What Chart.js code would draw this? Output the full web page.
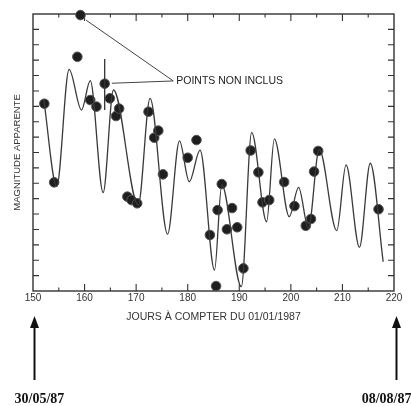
<!DOCTYPE html>
<html>
<head>
<meta charset="utf-8">
<script src="https://cdn.jsdelivr.net/npm/chart.js@4"></script>
<style>
  html, body { margin: 0; padding: 0; background: #fff; }
  #wrap { width: 411px; height: 406px; }
</style>
</head>
<body>
<div id="wrap"><canvas id="lightcurve"></canvas></div>
<script>
// observed magnitudes (arbitrary units, axis has no labels)
var obsDays = [152.2, 154.1, 158.6, 161.1, 162.3, 164.9, 166.1, 166.7, 168.3, 169.1, 170.2,
  172.4, 173.5, 174.3, 175.2, 180.0, 181.7, 184.3, 185.5, 185.8, 186.6, 187.6, 188.6,
  189.6, 190.8, 192.2, 193.7, 194.5, 195.8, 198.7, 200.7, 202.9, 203.9, 204.5, 205.3, 217.0];
var obsMag = [12.17, 7.06, 15.22, 12.41, 11.98, 12.52, 11.37, 11.85, 6.13, 5.91, 5.70,
  11.65, 9.96, 10.42, 7.58, 8.66, 9.81, 3.64, 0.32, 5.26, 6.95, 4.01, 5.39,
  4.14, 1.47, 9.13, 7.71, 5.76, 5.91, 7.08, 5.52, 4.24, 4.68, 7.76, 9.10, 5.31];

// points left out of the fit
var exclDays = [159.2, 163.9];
var exclMag = [17.93, 13.47];
var exclErrLow = [17.93, 11.76];
var exclErrHigh = [17.93, 15.07];

// fitted curve (read at its turning points)
var fitDays = [152.1, 154.6, 157.0, 159.4, 161.1, 163.6, 165.6, 170.4, 172.7, 176.1, 178.4,
  180.3, 182.4, 185.2, 186.6, 190.4, 192.4, 195.3, 196.8, 199.7, 201.5, 203.4, 205.5,
  208.9, 210.7, 213.3, 215.4, 217.9];
var fitMag = [12.4, 6.8, 14.4, 11.76, 13.67, 6.39, 13.06, 5.59, 12.52, 3.70, 9.75,
  7.10, 9.16, 1.36, 6.89, 0.28, 10.31, 4.5, 9.88, 4.83, 6.74, 4.07, 9.2,
  3.92, 8.19, 2.84, 8.30, 1.9];

var dayMin = 150, dayMax = 220;
var magMin = 0, magMax = 18;
var dateLabels = ["30/05/87", "08/08/87"];

function pts(xs, ys) {
  return xs.map(function(x, i) { return { x: x, y: ys[i] }; });
}

var errData = [];
exclDays.forEach(function(d, i) {
  if (exclErrLow[i] !== exclErrHigh[i]) {
    errData.push({ x: d, y: exclErrLow[i] }, { x: d, y: exclErrHigh[i] }, { x: null, y: null });
  }
});

// frame with inward ticks on all four sides
var frame = {
  id: 'frame',
  beforeDatasetsDraw: function(chart) {
    var ctx = chart.ctx, a = chart.chartArea;
    var xs = chart.scales.x, ys = chart.scales.y;
    ctx.save();
    ctx.strokeStyle = '#333';
    ctx.lineWidth = 1.4;
    ctx.strokeRect(a.left, a.top, a.right - a.left, a.bottom - a.top);
    ctx.lineWidth = 1.1;
    ctx.beginPath();
    for (var d = dayMin + 5; d < dayMax; d += 5) {
      var px = xs.getPixelForValue(d);
      var len = d % 10 === 0 ? 7 : 3.5;
      ctx.moveTo(px, a.bottom); ctx.lineTo(px, a.bottom - len);
      ctx.moveTo(px, a.top); ctx.lineTo(px, a.top + len);
    }
    for (var m = magMin + 1; m < magMax; m++) {
      var py = ys.getPixelForValue(m);
      ctx.moveTo(a.left, py); ctx.lineTo(a.left + 6, py);
      ctx.moveTo(a.right, py); ctx.lineTo(a.right - 6, py);
    }
    ctx.stroke();
    ctx.restore();
  },
  afterDraw: function(chart) {
    var ctx = chart.ctx;
    var xs = chart.scales.x, ys = chart.scales.y;
    ctx.save();
    // callout for the excluded points
    var lx = xs.getPixelForValue(177.2), ly = ys.getPixelForValue(13.65);
    ctx.strokeStyle = '#444';
    ctx.lineWidth = 1;
    ctx.beginPath();
    ctx.moveTo(xs.getPixelForValue(160.3), ys.getPixelForValue(17.6));
    ctx.lineTo(lx, ly);
    ctx.lineTo(xs.getPixelForValue(165.3), ys.getPixelForValue(13.5));
    ctx.stroke();
    ctx.fillStyle = '#222';
    ctx.font = '10.5px "Liberation Sans", Arial, sans-serif';
    ctx.textBaseline = 'middle';
    ctx.fillText('POINTS NON INCLUS', lx + 3, ly);

    // date arrows under the axis ends
    ctx.fillStyle = '#111';
    ctx.strokeStyle = '#111';
    ctx.lineWidth = 2;
    [dayMin, dayMax].forEach(function(d, i) {
      var px = Math.round(xs.getPixelForValue(d)) + (i === 0 ? 1.5 : 2.5);
      ctx.beginPath();
      ctx.moveTo(px, 326); ctx.lineTo(px, 380);
      ctx.stroke();
      ctx.beginPath();
      ctx.moveTo(px, 316); ctx.lineTo(px - 4.5, 328); ctx.lineTo(px + 4.5, 328);
      ctx.closePath();
      ctx.fill();
      ctx.font = 'bold 14px "Liberation Serif", "Times New Roman", serif';
      ctx.textBaseline = 'alphabetic';
      ctx.textAlign = i === 0 ? 'left' : 'right';
      ctx.fillText(dateLabels[i], i === 0 ? px - 20 : px + 15, 403);
    });
    ctx.restore();
  }
};

var chart = new Chart(document.getElementById('lightcurve').getContext('2d'), {
  type: 'line',
  data: {
    datasets: [{
      label: 'ajustement',
      data: pts(fitDays, fitMag),
      borderColor: '#3a3a3a',
      borderWidth: 1.3,
      pointRadius: 0,
      cubicInterpolationMode: 'monotone',
      fill: false
    }, {
      label: 'barre',
      data: errData,
      borderColor: '#333',
      borderWidth: 1.3,
      pointRadius: 0,
      spanGaps: false,
      clip: false
    }, {
      label: 'observations',
      data: pts(obsDays, obsMag),
      showLine: false,
      pointRadius: 4.8,
      pointBackgroundColor: '#1e1e1e',
      pointBorderColor: '#555',
      pointBorderWidth: 1,
      clip: false
    }, {
      label: 'non inclus',
      data: pts(exclDays, exclMag),
      showLine: false,
      pointRadius: 4.8,
      pointBackgroundColor: '#1e1e1e',
      pointBorderColor: '#555',
      pointBorderWidth: 1,
      clip: false
    }]
  },
  options: {
    responsive: true,
    maintainAspectRatio: false,
    animation: false,
    layout: { padding: { top: 14, right: 17, left: 0, bottom: 0 } },
    plugins: { legend: { display: false }, tooltip: { enabled: false } },
    scales: {
      x: {
        type: 'linear',
        min: dayMin,
        max: dayMax,
        grid: { display: false, drawTicks: false },
        border: { display: false },
        ticks: {
          stepSize: 5,
          autoSkip: false,
          maxRotation: 0,
          padding: 1,
          color: '#333',
          font: { family: '"Liberation Sans", Arial, sans-serif', size: 10 },
          callback: function(v) { return v % 10 === 0 ? v : ''; }
        },
        title: {
          display: true,
          text: 'JOURS À COMPTER DU 01/01/1987',
          color: '#333',
          font: { family: '"Liberation Sans", Arial, sans-serif', size: 10.5 },
          padding: { top: 4, bottom: 83 }
        },
        afterFit: function(s) { s.height = 115; }
      },
      y: {
        min: magMin,
        max: magMax,
        grid: { display: false, drawTicks: false },
        border: { display: false },
        ticks: { display: false },
        title: {
          display: true,
          text: 'MAGNITUDE APPARENTE',
          color: '#333',
          font: { family: '"Liberation Sans", Arial, sans-serif', size: 9.5 },
          padding: { top: 12, bottom: 0 }
        },
        afterFit: function(s) { s.width = 33; }
      }
    }
  },
  plugins: [frame]
});
</script>
</body>
</html>
